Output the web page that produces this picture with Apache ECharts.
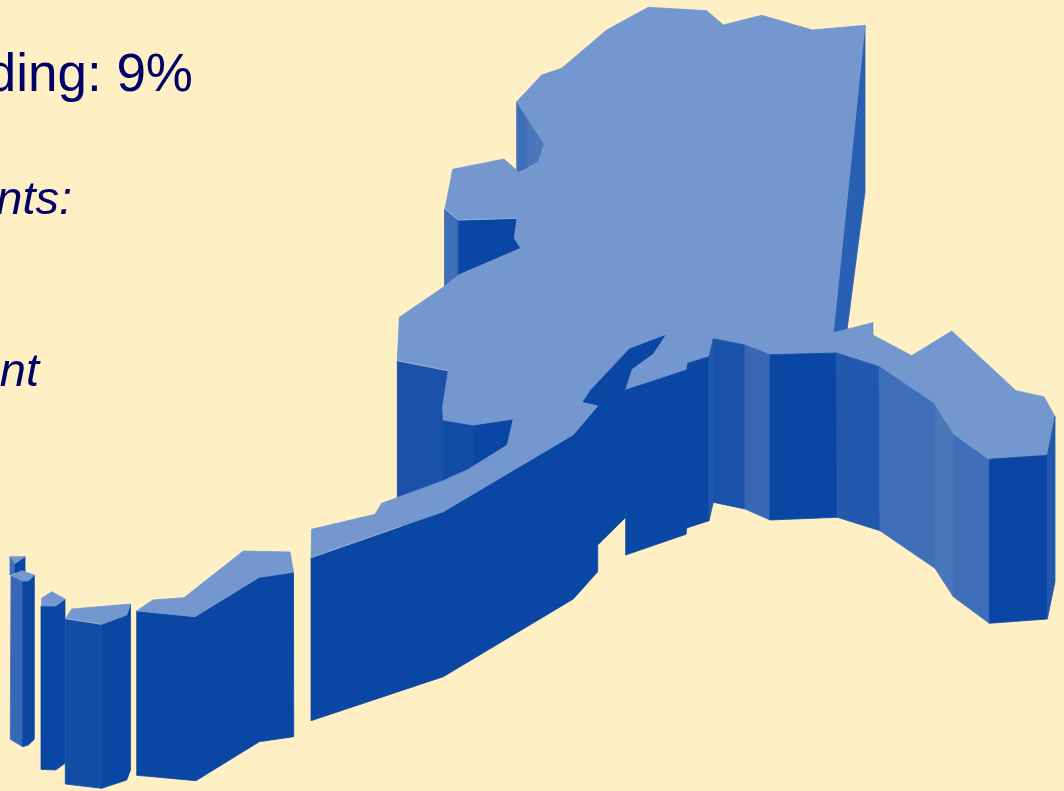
<!DOCTYPE html>
<html>
<head>
<meta charset="utf-8">
<style>html,body{margin:0;padding:0;background:#fef0c4;overflow:hidden}#c{width:1064px;height:791px}</style>
<script src="https://cdn.jsdelivr.net/npm/echarts@6/dist/echarts.min.js"></script>
</head>
<body>
<div id="c"></div>
<script>
// Text fragments visible in the picture
const textLines = ['ding: 9%', 'nts:', 'nt'];

// Outline of the map surface
const mainTop = [[516.7,101.7],[541.7,75],[561.7,68.3],[606.7,30],[648.3,7.3],[706.7,10.7],[723.3,25],[761.7,15.3],[812.3,30],[865,25.3],[833.3,332.7],[872.7,322.7],[872.7,335],[911.7,355.7],[951.7,331],[1016,390.7],[1044,396.7],[1055,416.7],[1047.3,455.3],[989.3,459.3],[954,434],[935,404.3],[879.3,366.7],[836.7,353],[770,354.7],[745,345],[713.3,338.7],[709,356.7],[687.7,363.3],[686.7,370],[625.7,390],[632.3,369.3],[653.3,354.3],[666.7,334],[629.3,348.3],[590,390],[582,402.3],[597.7,406],[573.3,434.7],[443.3,511.7],[401.7,526],[311,557.7],[311.7,529.3],[375,514.3],[381.7,503.3],[443.3,480.7],[468.3,469.3],[507.3,445],[513.3,419],[473.3,425],[443.3,420],[442.7,406.7],[448.3,370.7],[397.3,360.7],[399.3,317.3],[444,286.7],[458.3,275],[520.7,248.3],[514.3,238.3],[517,218.3],[458.3,220],[445,209],[452.7,169.3],[504,159],[520,173.3],[538.3,161.7],[544.3,144]];
const isle1Top = [[10,556.7],[25,556.7],[15,563.5]];
const isle2Top = [[11,575.7],[21.7,570.7],[34.3,575],[28.3,581],[22.7,581]];
const isle3Top = [[41.7,598.3],[51.7,591.7],[65,599],[55.7,606],[41.7,606]];
const isle4Top = [[65.7,618.6],[71.7,609],[130.5,604],[126.7,615],[101.7,624.3]];
const isle5Top = [[136.7,611],[152.7,600],[184,597.7],[243.3,551],[290,552],[293.5,572.3],[259.3,577.3],[195,616.7]];

// Walls (ordered back to front)
const wallNorthEast = [[865,25.3],[865,192],[847,330],[833.3,333]];
const wallSpitA = [[872.7,322.7],[872.7,335],[869,333]];
const wallBayA = [[516.7,101.7],[516.7,174],[527,168],[527,118]];
const wallBayB = [[527,118],[527,168],[538.3,161.7],[544.3,144]];
const wallCapeA = [[444.5,209],[458.3,220],[458.3,275],[444.5,287]];
const wallCapeB = [[458.3,220],[517,218.3],[514.3,238.3],[520.7,248.3],[458.3,275]];
const wallWestA = [[397.3,360.7],[448.3,370.7],[442.7,406.7],[443.3,420],[443.3,482],[397.3,500]];
const wallWestB = [[443.3,420],[473.3,425],[473.3,468],[443.3,482]];
const wallWestC = [[473.3,425],[513.3,419],[507.3,445],[473.3,468]];
const wallSouth = [[311,557.7],[443.3,511.7],[573.3,434.7],[597.7,406],[582,402.3],[590,390],[629.3,348.3],[666.7,334],[653.3,354.3],[632.3,369.3],[625.7,390],[625.7,517.3],[597.7,545],[597.7,571.7],[573.3,599],[443.3,676.7],[311,720.7]];
const wallA = [[625.7,390],[686.7,370],[686.7,528],[686,534.3],[625.7,555]];
const wallB = [[686.7,370],[687.7,363.3],[709,356.7],[709,520.7],[686.7,528]];
const wallC = [[709,356.7],[713.3,338.7],[713.3,502.3],[709,520.7]];
const wallD = [[713.3,338.7],[745,345],[745,509],[713.3,502.3]];
const wallE = [[745,345],[770,354.7],[770,520],[745,509]];
const wallF = [[770,354.7],[836.7,353],[837.3,517.3],[770,520]];
const wallG = [[836.7,353],[879.3,366.7],[880,530.7],[837.3,517.3]];
const wallH = [[879.3,366.7],[935,404.3],[935,568.3],[880,530.7]];
const wallI = [[935,404.3],[954,434],[953.3,596.7],[935,568.3]];
const wallJ = [[954,434],[989.3,459.3],[989.3,623.3],[953.3,596.7]];
const wallK = [[989.3,459.3],[1047.3,455.3],[1047.3,619],[989.3,623.3]];
const wallL = [[1047.3,455.3],[1055,416.7],[1055,581.7],[1047.3,619]];
const isle1Side = [[10,556.7],[15,563.5],[15,573],[10,575]];
const isle1Front = [[15,563.5],[25,556.7],[25,571.7],[15,573]];
const isle2Side = [[11,575.7],[22.7,581],[22.7,746.7],[10.3,739.3]];
const isle2Front = [[22.7,581],[28.3,581],[34.3,575],[34.3,739.3],[28.3,745],[22.7,746.7]];
const isle3Front = [[41,606],[55.7,606],[65,599],[65,763.3],[55.7,770],[41,769.3]];
const isle4Side = [[65.3,619],[101.7,624.3],[101.7,788.3],[65.3,784]];
const isle4Front = [[101.7,624.3],[126.7,615],[130.5,604],[130.5,770],[126.7,780],[101.7,788.3]];
const isle5Front = [[136.7,611],[195,616.7],[259.3,577.3],[293.5,572.3],[293.7,736.7],[259.3,741.7],[196,780.7],[136.7,775.3]];

// Thin pale seams where the surface meets a wall
const seamCape = [[445,209],[458.3,220],[517,218.3]];
const seamWest = [[397.3,360.7],[448.3,370.7]];
const seamSouth = [[311,557.7],[401.7,526]];
const seamEast = [[935,404.3],[954,434],[989.3,459.3]];
const seamIsle = [[65.7,618.6],[101.7,624.3]];

const shades = {
  top:'#7397ce', deep:'#0a47a5', d1:'#114ca7', d2:'#1a52a9', d3:'#2158ae',
  m1:'#2a60b3', m2:'#3868b5', m3:'#3f6fb9', m4:'#4a76bb'
};
const faces = [
  [wallNorthEast,'m1'],[wallSpitA,'deep'],[wallBayA,'m3'],[wallBayB,'m4'],
  [wallCapeA,'m3'],[wallCapeB,'deep'],[wallWestA,'d2'],[wallWestB,'d1'],[wallWestC,'deep'],
  [wallSouth,'deep'],[mainTop,'top'],
  [wallA,'deep'],[wallB,'deep'],[wallC,'d3'],[wallD,'d2'],[wallE,'m2'],[wallF,'deep'],
  [wallG,'d3'],[wallH,'m3'],[wallI,'m4'],[wallJ,'m3'],[wallK,'deep'],[wallL,'d3'],
  [isle1Side,'m3'],[isle1Front,'deep'],[isle1Top,'top'],
  [isle2Side,'m2'],[isle2Front,'deep'],[isle2Top,'top'],
  [isle3Front,'deep'],[isle3Top,'top'],
  [isle4Side,'d1'],[isle4Front,'deep'],[isle4Top,'top'],
  [isle5Front,'deep'],[isle5Top,'top']
];
const seams = [seamCape, seamWest, seamSouth, seamEast, seamIsle];

const chart = echarts.init(document.getElementById('c'), null, {renderer:'canvas'});
chart.setOption({
  animation:false,
  backgroundColor:'#fef0c4',
  grid:{left:0,right:0,top:0,bottom:0},
  xAxis:{type:'value',min:0,max:1064,show:false},
  yAxis:{type:'value',min:0,max:791,inverse:true,show:false},
  tooltip:{show:false},
  series:[{
    type:'custom',
    coordinateSystem:'cartesian2d',
    clip:true,
    silent:true,
    data:faces.map((f,i)=>[f[0][0][0],f[0][0][1],i]),
    encode:{x:0,y:1},
    renderItem:function(params,api){
      const f = faces[api.value(2)];
      return {
        type:'polygon',
        shape:{points:f[0].map(p=>api.coord(p))},
        style:{fill:shades[f[1]],stroke:shades[f[1]],lineWidth:0.8}
      };
    }
  },{
    type:'custom',
    coordinateSystem:'cartesian2d',
    clip:true,
    silent:true,
    data:seams.map((s,i)=>[s[0][0],s[0][1],i]),
    encode:{x:0,y:1},
    renderItem:function(params,api){
      const s = seams[api.value(2)];
      return {
        type:'polyline',
        shape:{points:s.map(p=>api.coord(p))},
        style:{fill:null,stroke:'#c4ccd6',lineWidth:0.7,opacity:0.7}
      };
    }
  }],
  graphic:[
    {type:'text',silent:true,style:{text:textLines[0],x:193,y:103,textAlign:'right',textVerticalAlign:'bottom',fill:'#000066',font:'53px "Liberation Sans"'}},
    {type:'text',silent:true,style:{text:textLines[1],x:72,y:224,textAlign:'right',textVerticalAlign:'bottom',fill:'#000066',font:'italic 47px "Liberation Sans"'}},
    {type:'text',silent:true,style:{text:textLines[2],x:39,y:396,textAlign:'right',textVerticalAlign:'bottom',fill:'#000066',font:'italic 47px "Liberation Sans"'}}
  ]
});
</script>
</body>
</html>
